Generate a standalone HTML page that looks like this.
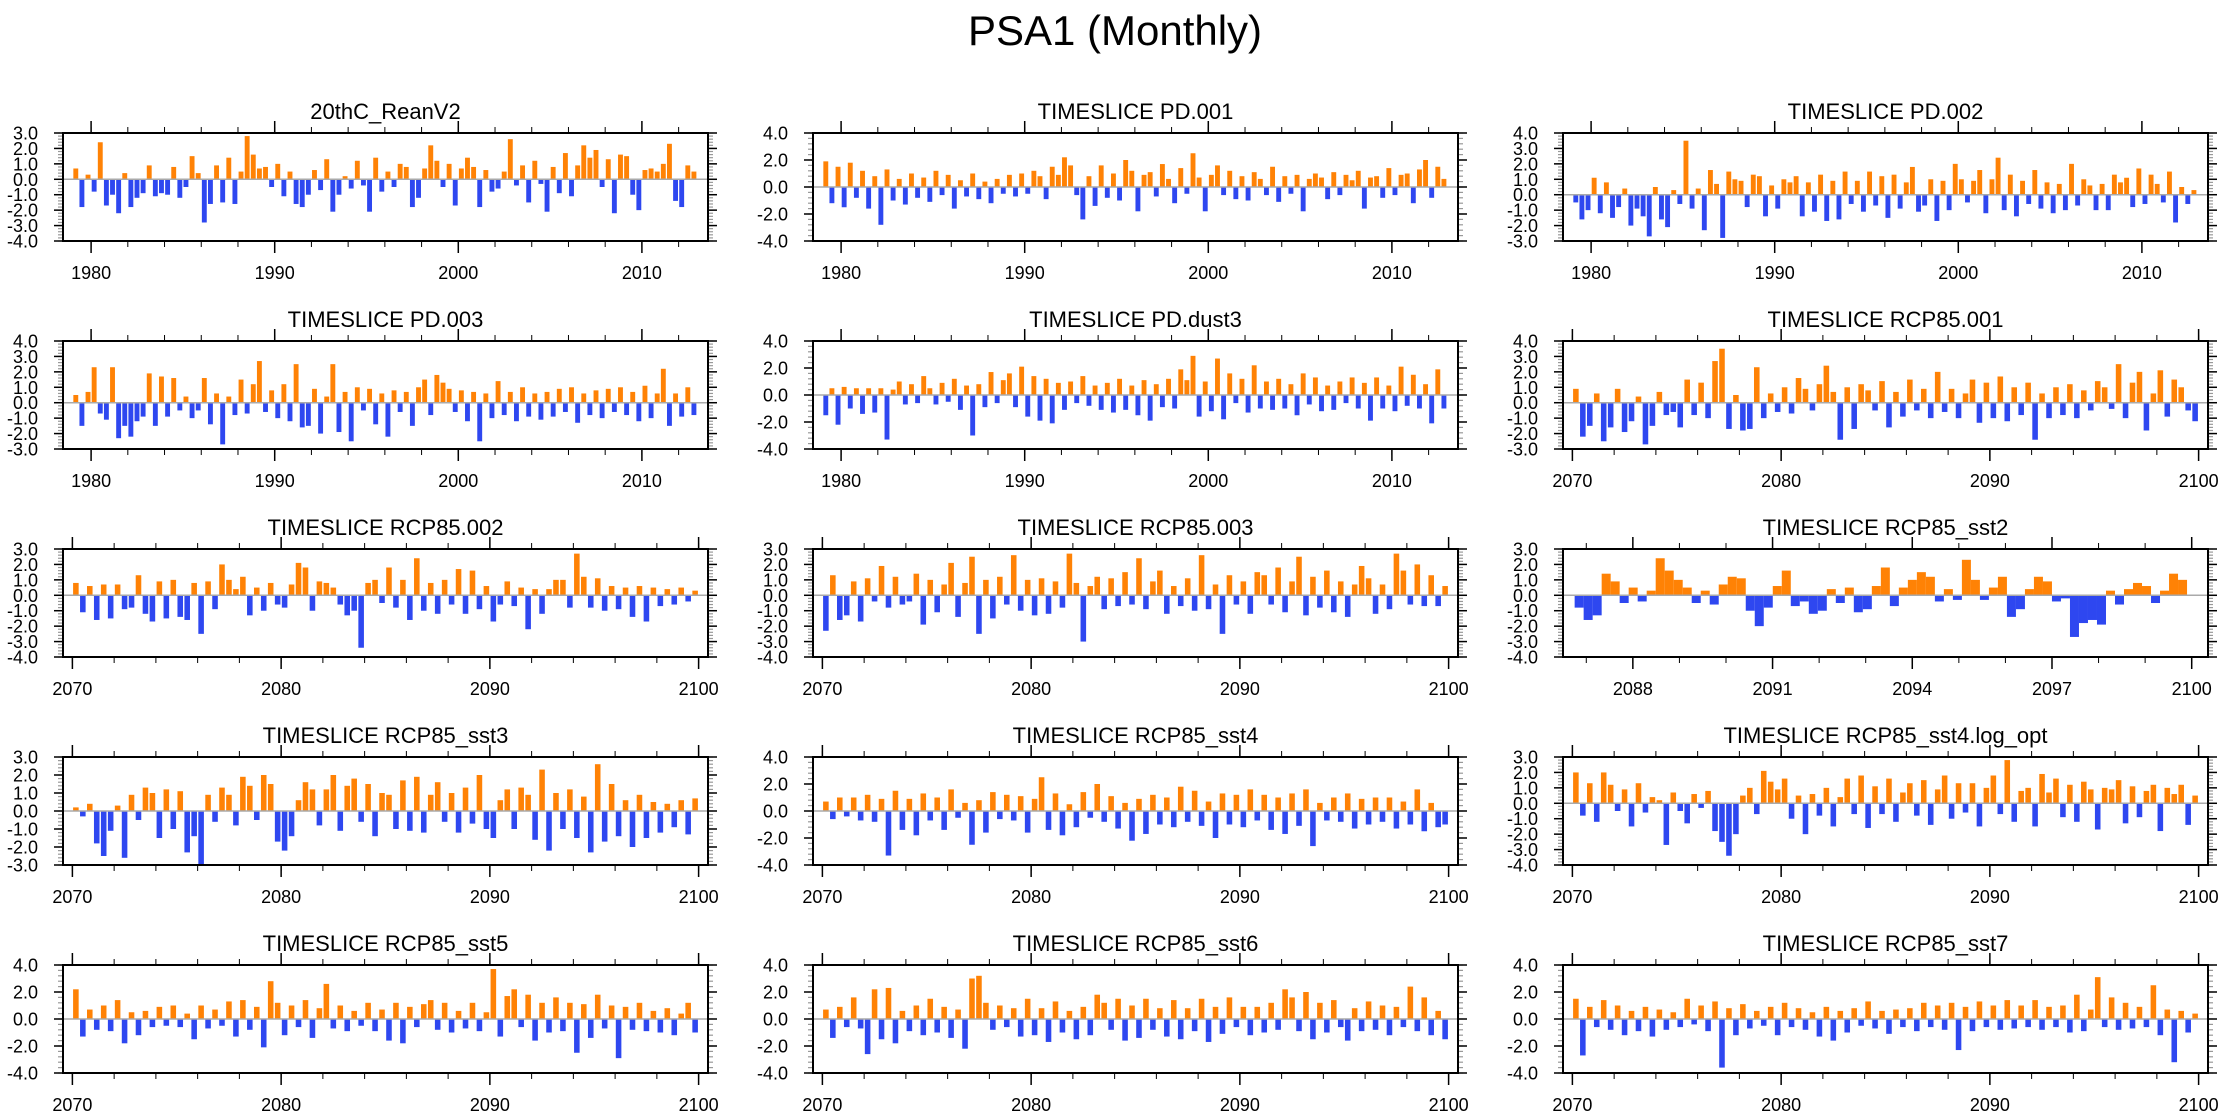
<!DOCTYPE html>
<html><head><meta charset="utf-8"><title>PSA1 (Monthly)</title>
<style>
html,body{margin:0;padding:0;background:#fff;}
svg{display:block;font-family:"Liberation Sans",sans-serif;}
</style></head>
<body>
<svg id="chart" width="2230" height="1120" viewBox="0 0 2230 1120" xmlns="http://www.w3.org/2000/svg">
<rect x="0" y="0" width="2230" height="1120" fill="#fff"/>
<text x="1115" y="45" font-size="42" text-anchor="middle" fill="#000">PSA1 (Monthly)</text>
</svg>
<script>
// ---- data arrays ----
const titles = ["20thC_ReanV2","TIMESLICE PD.001","TIMESLICE PD.002","TIMESLICE PD.003","TIMESLICE PD.dust3","TIMESLICE RCP85.001","TIMESLICE RCP85.002","TIMESLICE RCP85.003","TIMESLICE RCP85_sst2","TIMESLICE RCP85_sst3","TIMESLICE RCP85_sst4","TIMESLICE RCP85_sst4.log_opt","TIMESLICE RCP85_sst5","TIMESLICE RCP85_sst6","TIMESLICE RCP85_sst7"];
const yMins = [-4,-4,-3,-3,-4,-3,-4,-4,-4,-3,-4,-4,-4,-4,-4];
const yMaxs = [3,4,4,4,4,4,3,3,3,3,4,3,4,4,4];
const yTickSteps = [1,2,1,1,2,1,1,1,1,1,2,1,2,2,2];
const dataStarts = [1979,1979,1979,1979,1979,2070,2070,2070,2086.75,2070,2070,2070,2070,2070,2070];
const dataEnds = [2013,2013,2013,2013,2013,2100,2100,2100,2099.9,2100,2100,2100,2100,2100,2100];
const xDomainStarts = [1978.47,1978.47,1978.47,1978.47,1978.47,2069.55,2069.55,2069.55,2086.5,2069.55,2069.55,2069.55,2069.55,2069.55,2069.55];
const xDomainEnds = [2013.6,2013.6,2013.6,2013.6,2013.6,2100.45,2100.45,2100.45,2100.35,2100.45,2100.45,2100.45,2100.45,2100.45,2100.45];
const xLabelYears = [
 [1980,1990,2000,2010],[1980,1990,2000,2010],[1980,1990,2000,2010],
 [1980,1990,2000,2010],[1980,1990,2000,2010],[2070,2080,2090,2100],
 [2070,2080,2090,2100],[2070,2080,2090,2100],[2088,2091,2094,2097,2100],
 [2070,2080,2090,2100],[2070,2080,2090,2100],[2070,2080,2090,2100],
 [2070,2080,2090,2100],[2070,2080,2090,2100],[2070,2080,2090,2100]];

const s20thC = [0.7,-1.8,0.3,-0.8,2.4,-1.7,-1.0,-2.2,0.4,-1.8,-1.2,-0.9,0.9,-1.1,-0.9,-1.0,0.8,-1.2,-0.5,1.5,0.4,-2.8,-1.6,0.9,-1.5,1.4,-1.6,0.5,2.8,1.6,0.7,0.8,-0.5,1.0,-1.1,0.5,-1.6,-1.8,-1.0,0.6,-0.7,1.3,-2.1,-1.0,0.2,-0.6,1.2,-0.4,-2.1,1.4,-0.8,0.5,-0.5,1.0,0.8,-1.8,-1.2,0.7,2.2,1.2,-0.5,1.0,-1.7,0.7,1.4,0.8,-1.8,0.6,-0.8,-0.6,0.5,2.6,-0.4,0.9,-1.5,1.2,-0.3,-2.1,0.8,-0.9,1.7,-1.1,0.9,2.2,1.4,1.9,-0.5,1.3,-2.2,1.6,1.5,-1.0,-2.0,0.6,0.7,0.5,1.0,2.3,-1.4,-1.8,0.9,0.5];
const sPD001 = [1.9,-1.2,1.5,-1.5,1.8,-0.8,1.2,-1.6,0.8,-2.8,1.3,-1.0,0.6,-1.3,1.0,-0.8,0.7,-1.1,1.2,-0.6,0.9,-1.6,0.5,-0.7,1.0,-0.9,0.4,-1.2,0.6,-0.5,0.9,-0.7,1.0,-0.5,1.2,0.8,-0.9,1.5,0.9,2.2,1.6,-0.6,-2.4,0.8,-1.4,1.6,-0.8,1.0,-1.0,2.0,1.2,-1.8,0.9,1.1,-0.7,1.7,0.6,-1.2,1.4,-0.5,2.5,0.7,-1.8,0.9,1.6,-0.6,1.2,-0.9,0.8,-1.0,1.1,0.6,-0.6,1.5,-1.1,0.8,-0.5,0.9,-1.8,0.6,1.0,0.7,-0.9,1.1,-0.6,0.9,0.5,1.2,-1.6,0.7,0.8,-0.8,1.4,-0.6,0.9,1.0,-1.2,1.3,2.0,-0.8,1.5,0.6];
const sPD002 = [-0.5,-1.6,-1.0,1.1,-1.2,0.8,-1.5,-0.8,0.4,-2.0,-0.9,-1.4,-2.7,0.5,-1.6,-2.1,0.3,-0.6,3.5,-0.9,0.4,-2.3,1.6,0.7,-2.8,1.5,1.0,0.9,-0.8,1.3,1.2,-1.4,0.6,-0.9,1.0,0.8,1.2,-1.4,0.8,-1.1,1.3,-1.7,0.9,-1.6,1.5,-0.6,0.9,-1.1,1.5,-0.7,1.2,-1.5,1.3,-0.9,0.8,1.8,-1.1,-0.7,1.0,-1.7,0.9,-1.0,2.0,1.0,-0.5,0.9,1.6,-1.2,1.0,2.4,-1.0,1.3,-1.4,0.9,-0.6,1.6,-0.9,0.8,-1.2,0.7,-1.0,2.0,-0.7,1.0,0.6,-1.0,0.7,-1.0,1.3,0.8,1.1,-0.8,1.7,-0.6,1.3,0.7,-0.5,1.5,-1.8,0.5,-0.6,0.3];
const sPD003 = [0.5,-1.5,0.7,2.3,-0.7,-1.1,2.3,-2.3,-1.5,-2.2,-1.2,-0.9,1.9,-1.5,1.7,-0.9,1.6,-0.5,0.4,-1.0,-0.5,1.6,-1.4,0.6,-2.7,0.4,-0.8,1.5,-0.7,1.2,2.7,-0.6,0.8,-1.0,1.2,-1.2,2.5,-1.6,-1.5,0.9,-2.0,0.4,2.5,-1.9,0.7,-2.5,1.0,-0.5,0.9,-1.4,0.6,-2.2,0.8,-0.6,0.7,-1.5,1.0,1.5,-0.8,1.8,1.3,0.9,-0.6,0.8,-1.2,0.7,-2.5,0.6,-1.0,1.4,-0.8,0.7,-1.2,1.0,-0.9,0.6,-1.1,0.7,-0.9,0.9,-0.6,1.0,-1.3,0.6,-0.8,0.8,-1.0,0.9,-0.6,1.0,-0.8,0.7,-1.2,1.1,-1.0,0.6,2.2,-1.5,0.6,-0.9,1.0,-0.8];
const sPDdust3 = [-1.5,0.5,-2.2,0.6,-1.0,0.5,-1.4,0.5,-1.3,0.5,-3.3,0.4,1.0,-0.7,0.8,-0.6,1.4,0.5,-0.7,0.9,-0.5,1.2,-1.1,0.7,-3.0,0.8,-0.9,1.7,-0.6,1.1,1.6,-0.9,2.1,-1.6,1.4,-1.9,1.2,-2.1,0.9,-1.1,1.0,-0.6,1.4,-0.8,0.7,-1.1,0.9,-1.3,1.2,-1.1,0.7,-1.5,1.1,-1.9,0.8,-0.9,1.2,-1.0,1.9,1.1,2.9,-1.6,1.0,-1.2,2.7,-1.8,1.6,-0.6,1.2,-1.3,2.2,-1.0,1.0,-1.1,1.2,-1.0,0.8,-1.5,1.6,-0.7,1.3,-1.2,0.7,-1.1,1.0,-0.6,1.3,-1.0,0.9,-1.9,1.3,-1.0,0.7,-1.2,2.1,-0.8,1.5,-1.0,0.8,-2.1,1.9,-1.0];
const sRCP001 = [0.9,-2.2,-1.5,0.6,-2.5,-1.6,0.9,-1.9,-1.2,0.4,-2.7,-1.5,0.7,-0.8,-0.6,-1.6,1.5,-0.8,1.3,-1.0,2.7,3.5,-1.7,0.5,-1.8,-1.7,2.3,-1.0,0.6,-0.6,1.0,-0.7,1.6,0.9,-0.5,1.2,2.4,0.7,-2.4,1.0,-1.7,1.2,0.8,-0.5,1.4,-1.6,0.7,-0.9,1.5,-0.5,0.9,-1.0,2.0,-0.6,0.9,-1.0,0.6,1.5,-1.3,1.3,-1.0,1.7,-1.2,1.0,-0.8,1.3,-2.4,0.6,-1.0,1.0,-0.8,1.2,-1.0,0.8,-0.5,1.4,1.0,-0.4,2.5,-1.0,1.3,2.0,-1.8,0.6,2.1,-0.9,1.5,1.0,-0.5,-1.2];
const sRCP002 = [0.8,-1.1,0.6,-1.6,0.7,-1.5,0.7,-0.9,-0.8,1.3,-1.2,-1.7,0.9,-1.5,1.0,-1.4,-1.6,0.8,-2.5,0.9,-0.9,2.0,1.0,0.4,1.2,-1.3,0.5,-1.0,0.8,-0.6,-0.8,0.7,2.1,1.8,-1.0,0.9,0.8,0.5,-0.6,-1.3,-1.0,-3.4,0.8,1.0,-0.5,1.8,-0.8,1.0,-1.6,2.4,-1.0,0.8,-1.2,1.0,-0.6,1.7,-1.2,1.6,-0.9,0.6,-1.7,-0.6,0.9,-0.7,0.5,-2.2,0.4,-1.2,0.4,1.0,1.0,-0.8,2.7,1.2,-0.8,1.1,-1.0,0.6,-0.9,0.5,-1.4,0.6,-1.7,0.5,-0.7,0.4,-0.6,0.5,-0.4,0.3];
const sRCP003 = [-2.3,1.3,-1.6,-1.3,0.9,-1.7,1.1,-0.4,1.9,-0.8,1.2,-0.6,-0.4,1.4,-1.9,1.0,-1.1,0.7,2.1,-1.4,0.8,2.5,-2.5,1.0,-1.5,1.2,-0.6,2.6,-1.0,1.0,-1.3,1.1,-1.2,0.9,-0.8,2.7,0.8,-3.0,0.6,1.2,-0.9,1.1,-0.7,1.5,-0.6,2.4,-0.9,0.9,1.6,-1.2,0.6,-0.7,1.1,-1.0,2.6,-0.9,0.7,-2.5,1.3,-0.6,0.9,-1.2,1.5,1.3,-0.6,1.8,-1.1,0.9,2.5,-1.3,1.2,-0.8,1.6,-1.1,0.9,-1.4,0.7,1.9,1.1,-1.2,0.7,-0.9,2.7,1.6,-0.6,2.0,-0.7,1.3,-0.7,0.6];
const sSST2 = [-0.8,-1.6,-1.3,1.4,0.9,-0.5,0.5,-0.4,0.3,2.4,1.6,1.0,0.5,-0.5,0.3,-0.6,0.7,1.2,1.1,-1.0,-2.0,-0.8,0.6,1.6,-0.7,-0.4,-1.2,-1.0,0.4,-0.5,0.5,-1.1,-0.9,0.6,1.8,-0.7,0.5,1.0,1.5,1.2,-0.4,0.4,-0.3,2.3,1.0,-0.3,0.5,1.2,-1.4,-0.9,0.4,1.2,0.9,-0.4,-0.2,-2.7,-1.8,-1.6,-1.9,0.3,-0.6,0.4,0.8,0.6,-0.5,0.3,1.4,1.0];
const sSST3 = [0.2,-0.3,0.4,-1.8,-2.5,-1.1,0.3,-2.6,0.9,-0.5,1.3,1.0,-1.5,1.2,-1.0,1.1,-2.3,-1.4,-3.0,0.9,-0.6,1.3,0.9,-0.8,1.9,1.4,-0.5,2.0,1.5,-1.7,-2.2,-1.4,0.6,1.6,1.2,-0.8,1.2,2.0,-1.1,1.4,1.8,-0.6,1.5,-1.4,1.0,0.9,-1.0,1.7,-1.1,1.9,-1.2,0.9,1.6,-0.6,1.0,-1.2,1.3,-0.7,2.0,-1.0,-1.5,0.6,1.2,-1.0,1.3,0.9,-1.6,2.3,-2.2,1.0,-1.0,1.2,-1.5,0.8,-2.3,2.6,-1.7,1.5,-1.4,0.6,-2.0,0.9,-1.5,0.5,-1.2,0.4,-0.9,0.6,-1.3,0.7];
const sSST4 = [0.7,-0.6,1.0,-0.4,1.0,-0.7,1.2,-0.8,0.9,-3.3,1.5,-1.4,0.9,-1.8,1.3,-0.7,1.0,-1.4,1.6,-0.5,0.6,-2.5,0.8,-1.6,1.4,-0.6,1.2,-0.7,1.1,-1.6,0.9,2.5,-1.4,1.3,-1.8,0.5,-1.2,1.4,-0.5,2.0,-0.8,1.1,-1.3,0.6,-2.2,0.9,-1.7,1.2,-1.0,1.0,-1.2,1.8,-0.8,1.5,-1.1,0.7,-2.0,1.3,-1.0,1.2,-1.2,1.6,-0.7,1.2,-1.4,1.0,-1.7,1.3,-1.1,1.6,-2.6,0.6,-0.7,1.0,-0.8,1.3,-1.3,0.9,-1.0,1.0,-0.8,1.0,-1.3,0.7,-1.0,1.6,-1.5,0.6,-1.2,-1.0];
const sSST4log = [2.0,-0.8,1.3,-1.2,2.0,1.2,-0.5,0.9,-1.5,1.3,-0.6,0.4,0.2,-2.7,0.7,-0.5,-1.3,0.6,-0.3,0.8,-1.8,-2.5,-3.4,-2.0,0.5,1.0,-0.7,2.1,1.4,0.9,1.6,-1.0,0.5,-2.0,0.6,-0.8,1.0,-1.5,0.4,1.6,-0.7,1.8,-1.6,1.1,-0.7,1.6,-1.2,0.7,1.3,-0.8,1.5,-1.4,0.9,1.8,-1.0,1.3,-0.6,1.3,-1.5,1.0,1.8,-0.7,2.8,-1.2,0.8,1.0,-1.5,1.9,0.7,1.6,-0.9,1.2,-1.2,1.4,0.9,-1.7,1.0,0.9,1.5,-1.3,1.1,-0.9,0.8,1.2,-1.8,1.0,0.6,1.2,-1.4,0.5];
const sSST5 = [2.2,-1.3,0.7,-0.8,1.0,-0.9,1.4,-1.8,0.5,-1.2,0.6,-0.6,0.9,-0.5,1.0,-0.6,0.4,-1.5,1.0,-0.7,0.7,-0.5,1.3,-1.3,1.4,-0.8,0.9,-2.1,2.8,1.2,-1.2,1.0,-0.6,1.4,-1.4,0.8,2.6,-0.7,1.0,-0.9,0.6,-0.5,1.2,-0.9,0.7,-1.6,1.2,-1.8,0.9,-0.6,1.1,1.4,-0.8,1.2,-1.0,0.6,-0.7,1.2,-0.9,0.5,3.7,-1.3,1.7,2.2,-0.6,1.8,-1.6,1.2,-1.0,1.6,-0.9,1.2,-2.5,1.1,-1.4,1.8,-0.7,1.0,-2.9,0.9,-0.8,1.2,-0.9,0.6,-1.0,0.8,-1.2,0.4,1.2,-1.0];
const sSST6 = [0.7,-1.4,0.9,-0.6,1.6,-0.7,-2.6,2.2,-1.5,2.3,-1.8,0.6,-0.9,1.0,-1.2,1.5,-1.0,0.9,-1.4,0.7,-2.2,3.0,3.2,1.2,-0.8,1.0,-0.6,0.8,-1.3,1.5,-1.2,0.8,-1.7,1.3,-1.0,0.6,-1.5,0.9,-1.2,1.8,1.2,-0.8,1.5,-1.6,1.0,-1.4,1.5,-0.8,0.8,-1.3,1.4,-1.5,0.8,-0.9,1.5,-1.7,0.9,-1.1,1.6,-0.6,0.9,-1.2,0.9,-1.0,1.2,-0.8,2.2,1.6,-0.9,2.0,-1.5,1.2,-1.0,1.4,-0.6,-1.6,0.8,-0.9,1.3,-0.8,1.0,-1.2,0.9,-0.6,2.4,-0.9,1.6,-1.2,0.6,-1.5];
const sSST7 = [1.5,-2.7,0.9,-0.6,1.4,-0.8,1.0,-1.2,0.6,-0.9,0.9,-1.3,0.7,-0.8,0.5,-0.6,1.5,-0.4,1.0,-0.9,1.3,-3.6,0.8,-1.2,1.1,-0.7,0.6,-0.5,0.9,-1.2,1.2,-0.6,0.8,-0.8,0.5,-1.3,0.9,-1.6,0.6,-1.0,0.8,-0.5,1.3,-0.7,0.6,-1.1,0.7,-0.6,0.8,-0.9,1.2,-0.6,1.0,-0.8,1.2,-2.3,0.9,-0.9,1.3,-0.6,1.0,-0.8,1.4,-0.7,1.0,-0.6,1.4,-0.8,0.9,-0.6,1.0,-1.0,1.8,-0.9,0.7,3.1,-0.6,1.6,-0.8,1.2,-0.7,0.9,-0.6,2.5,-1.2,0.7,-3.2,0.6,-1.0,0.4];
const seriesValues = [s20thC,sPD001,sPD002,sPD003,sPDdust3,sRCP001,sRCP002,sRCP003,sSST2,sSST3,sSST4,sSST4log,sSST5,sSST6,sSST7];

// ---- drawing ----
const NS = "http://www.w3.org/2000/svg";
const svg = document.getElementById('chart');
function mk(tag, attrs, parent){
  const e = document.createElementNS(NS, tag);
  for (const k in attrs) e.setAttribute(k, attrs[k]);
  (parent||svg).appendChild(e);
  return e;
}
const PW = 645, PH = 108;
const slugs = titles.map(t => t.replace('TIMESLICE ','').toLowerCase().replace(/[^a-z0-9]+/g,'-'));

for (let p = 0; p < 15; p++) {
  const col = p % 3, row = Math.floor(p / 3);
  const L = 63 + 750*col, T = 133 + 208*row, R = L + PW, B = T + PH;
  const x0 = xDomainStarts[p], x1 = xDomainEnds[p];
  const yMin = yMins[p], yMax = yMaxs[p];
  const xs = v => L + (v - x0) / (x1 - x0) * PW;
  const ys = v => B - (v - yMin) / (yMax - yMin) * PH;

  const g = mk('g', {});
  
  

  const title = mk('text', {x: (L+R)/2, y: T-14, 'font-size': 22, 'text-anchor': 'middle', fill: '#000'}, g);
  
  
  title.textContent = titles[p];

  // bars
  const vals = seriesValues[p];
  const n = vals.length;
  const step = (dataEnds[p] - dataStarts[p]) / n;
  const frac = p === 8 ? 1.0 : 0.8;
  const barsG = mk('g', {}, g);
  
  
  for (let i = 0; i < n; i++) {
    const v = vals[i];
    const c = dataStarts[p] + (i + 0.5) * step;
    const w = Math.abs(xs(c + step/2) - xs(c - step/2)) * frac;
    const yv = ys(v), y0 = ys(0);
    const r = mk('rect', {x: xs(c) - w/2, y: Math.min(yv, y0), width: w, height: Math.abs(y0 - yv),
      fill: v >= 0 ? '#ff8205' : '#2e47f0'}, barsG);
    
    
  }
  // zero line
  const zl = mk('line', {x1: L, x2: R, y1: ys(0), y2: ys(0), stroke: '#aaaaaa', 'stroke-width': 1.5}, g);
  
  

  // y ticks
  const yStep = yTickSteps[p];
  const minorStep = yStep === 1 ? 0.2 : 0.4;
  const yAxis = mk('g', {}, g);
  
  
  const nMinor = Math.round((yMax - yMin) / minorStep);
  for (let k = 0; k <= nMinor; k++) {
    const v = yMin + k*minorStep;
    const y = ys(v);
    mk('line', {x1: L-5, x2: L, y1: y, y2: y, stroke: '#999', 'stroke-width': 1.2}, yAxis);
    mk('line', {x1: R, x2: R+5, y1: y, y2: y, stroke: '#999', 'stroke-width': 1.2}, yAxis);
  }
  for (let v = yMin; v <= yMax + 1e-9; v += yStep) {
    const y = ys(v);
    mk('line', {x1: L-9, x2: L, y1: y, y2: y, stroke: '#000', 'stroke-width': 1.5}, yAxis);
    mk('line', {x1: R, x2: R+9, y1: y, y2: y, stroke: '#000', 'stroke-width': 1.5}, yAxis);
    const t = mk('text', {x: L-25, y: y+6.5, 'font-size': 18, 'text-anchor': 'end', fill: '#000'}, yAxis);
    
    
    t.textContent = v.toFixed(1);
  }

  // x ticks
  const xAxis = mk('g', {}, g);
  
  
  const minorYr = p === 8 ? 1 : 2;
  for (let yr = Math.ceil(x0); yr <= x1; yr++) {
    if (yr % minorYr !== 0 && p !== 8) continue;
    const x = xs(yr);
    mk('line', {x1: x, x2: x, y1: T-6, y2: T, stroke: '#000', 'stroke-width': 1}, xAxis);
    mk('line', {x1: x, x2: x, y1: B, y2: B+6, stroke: '#000', 'stroke-width': 1}, xAxis);
  }
  xLabelYears[p].forEach(yr => {
    const x = xs(yr);
    mk('line', {x1: x, x2: x, y1: T-12, y2: T, stroke: '#000', 'stroke-width': 1.5}, xAxis);
    mk('line', {x1: x, x2: x, y1: B, y2: B+12, stroke: '#000', 'stroke-width': 1.5}, xAxis);
    const t = mk('text', {x: x, y: B+38, 'font-size': 18, 'text-anchor': 'middle', fill: '#000'}, xAxis);
    
    
    t.textContent = String(yr);
  });

  // frame
  const fr = mk('rect', {x: L, y: T, width: PW, height: PH, fill: 'none', stroke: '#000', 'stroke-width': 2}, g);
  
  
}
</script>
</body></html>
